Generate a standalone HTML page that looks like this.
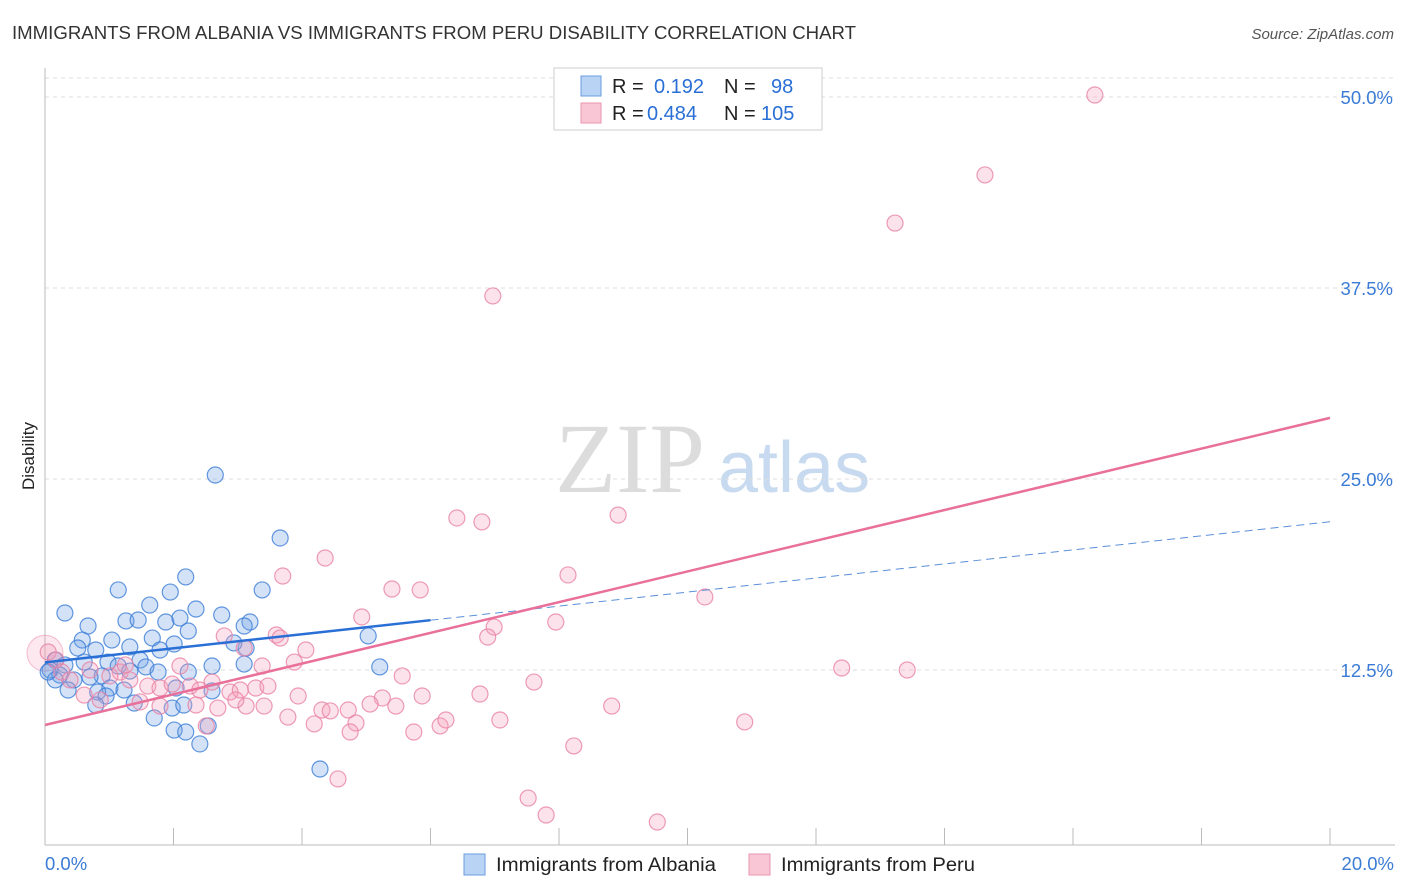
<!DOCTYPE html>
<html><head><meta charset="utf-8">
<style>
body{margin:0;background:#fff;font-family:"Liberation Sans",sans-serif;}
#c{position:relative;width:1406px;height:892px;overflow:hidden;}
</style></head>
<body>
<div id="c">
<svg id="s" width="1406" height="892" xmlns="http://www.w3.org/2000/svg">
<text x="12" y="39" font-size="18.5" fill="#333" textLength="844" lengthAdjust="spacingAndGlyphs">IMMIGRANTS FROM ALBANIA VS IMMIGRANTS FROM PERU DISABILITY CORRELATION CHART</text>
<text x="1394" y="39" font-size="15" fill="#555" font-style="italic" text-anchor="end">Source: ZipAtlas.com</text>
<text x="555" y="492" font-size="100" fill="#dcdcdc" font-family="Liberation Serif">ZIP</text>
<text x="718" y="492" font-size="72" fill="#c8daf0">atlas</text>
<text transform="translate(34,456) rotate(-90)" font-size="17" fill="#222" text-anchor="middle">Disability</text>
<g id="grid"></g><g id="pts"></g><g id="lines"></g>
<g>
<rect x="554" y="68" width="268" height="62" fill="#fff" stroke="#ccc"/>
<rect x="581" y="76" width="20" height="20" fill="#b9d3f5" stroke="#6a9ee0"/>
<rect x="581" y="103" width="20" height="20" fill="#f8c6d5" stroke="#e896b0"/>
<text x="612" y="93" font-size="20" fill="#222">R = <tspan fill="#2a6fd6" x="654">0.192</tspan><tspan fill="#222" x="724">N =</tspan><tspan fill="#2a6fd6" x="771">98</tspan></text>
<text x="612" y="120" font-size="20" fill="#222">R = <tspan fill="#2a6fd6" x="647">0.484</tspan><tspan fill="#222" x="724">N =</tspan><tspan fill="#2a6fd6" x="761">105</tspan></text>
</g>
<g>
<rect x="464" y="854" width="21" height="21" fill="#b9d3f5" stroke="#6a9ee0"/>
<text x="496" y="871" font-size="19" fill="#222" textLength="220" lengthAdjust="spacingAndGlyphs">Immigrants from Albania</text>
<rect x="749" y="854" width="21" height="21" fill="#f8c6d5" stroke="#e896b0"/>
<text x="781" y="871" font-size="19" fill="#222" textLength="194" lengthAdjust="spacingAndGlyphs">Immigrants from Peru</text>
</g>
<text x="45" y="870" font-size="18.5" fill="#3a7bd5">0.0%</text>
<text x="1394" y="870" font-size="18.5" fill="#3a7bd5" text-anchor="end">20.0%</text>
</svg>
</div>
<script>
const yTicks=[12.5,25,37.5,50];
const yTickLabels=["12.5%","25.0%","37.5%","50.0%"];
const xTickVals=[0,2,4,6,8,10,12,14,16,18,20];
const albaniaX=[2.65,3.66,1.14,2.19,3.38,0.31,1.63,1.95,2.35,2.75,0.67,1.26,1.45,1.88,2.10,3.19,3.10,2.23,1.67,0.58,1.04,1.32,1.79,2.01,3.13,2.94,5.03,0.79,0.51,0.16,0.31,0.98,1.14,1.48,1.57,1.32,1.76,0.89,2.23,2.60,3.10,5.21,0.23,0.45,0.70,1.01,1.23,0.82,0.36,0.95,1.39,0.79,2.04,2.60,1.70,1.98,2.16,2.01,2.19,2.54,2.41,4.28,0.08,0.16,0.05,0.61];
const albaniaY=[25.26,21.14,17.74,18.59,17.74,16.23,16.75,17.60,16.49,16.10,15.38,15.71,15.77,15.64,15.90,15.64,15.38,15.05,14.59,14.46,14.46,14.01,13.81,14.20,13.94,14.27,14.73,13.81,13.94,13.15,12.83,13.02,12.76,13.15,12.70,12.43,12.37,12.11,12.37,12.76,12.89,12.70,12.17,11.85,12.04,11.32,11.19,11.06,11.19,10.80,10.34,10.21,11.32,11.13,9.36,10.01,10.21,8.57,8.44,8.84,7.66,6.02,12.50,11.85,12.37,13.02];
const peruX=[16.34,14.63,13.23,6.97,6.41,6.80,8.92,4.36,3.70,5.40,5.84,8.14,10.27,4.93,7.95,6.99,6.89,2.79,3.60,3.66,4.06,3.10,3.38,3.88,2.10,5.56,7.61,12.40,13.42,0.05,0.17,0.26,0.70,1.17,1.32,1.60,1.79,1.98,2.26,2.60,2.88,3.04,3.28,3.47,3.94,5.25,5.87,6.77,0.86,1.48,1.79,2.35,2.69,3.13,3.41,3.78,4.31,4.44,4.72,5.06,5.46,6.15,6.24,7.08,8.82,10.89,4.19,4.84,4.75,5.74,2.51,8.23,4.56,7.52,7.80,9.53,1.01,0.39,2.41,2.97,0.61,1.25];
const peruY=[50.13,44.90,41.75,36.98,22.45,22.19,22.64,19.83,18.65,17.80,17.74,18.72,17.28,15.97,15.64,15.31,14.66,14.73,14.79,14.59,13.81,13.94,12.76,13.02,12.76,12.11,11.71,12.63,12.50,13.68,13.15,12.37,12.50,12.37,11.85,11.45,11.32,11.58,11.45,11.71,11.06,11.19,11.32,11.45,10.80,10.67,10.80,10.93,10.54,10.41,10.14,10.21,10.01,10.14,10.14,9.42,9.88,9.82,9.88,10.27,10.14,8.84,9.23,9.23,10.14,9.10,8.97,9.03,8.44,8.44,8.84,7.53,5.37,4.12,3.01,2.55,12.11,11.85,11.19,10.54,10.86,12.83];
const albaniaTrend=[13.0,22.2];
const peruTrend=[8.9,29.0];
const X=v=>45+v*64.25, Y=v=>861-v*15.28;
const NS="http://www.w3.org/2000/svg";
function mk(tag,attrs,parent){const e=document.createElementNS(NS,tag);for(const k in attrs)e.setAttribute(k,attrs[k]);parent.appendChild(e);return e;}
const g=document.getElementById('grid');
let e=mk('line',{x1:45,x2:1395,y1:78,y2:78,stroke:'#ddd','stroke-dasharray':'4,4'},g);


yTicks.forEach((t,i)=>{
 let l=mk('line',{x1:45,x2:1395,y1:Y(t),y2:Y(t),stroke:'#ddd','stroke-dasharray':'4,4'},g);
 
 
 let tx=mk('text',{x:1393,y:Y(t)+7,'font-size':18.5,fill:'#3a7bd5','text-anchor':'end'},g);
 tx.textContent=yTickLabels[i];
 
 
});
e=mk('line',{x1:45,x2:45,y1:68,y2:845,stroke:'#bbb'},g);


e=mk('line',{x1:45,x2:1395,y1:845,y2:845,stroke:'#bbb'},g);


xTickVals.forEach(v=>{
 let l=mk('line',{x1:X(v),x2:X(v),y1:828,y2:845,stroke:'#bbb'},g);
 
 
});
const p=document.getElementById('pts');
e=mk('circle',{cx:X(0),cy:Y(13.6),r:18,fill:'rgba(240,140,170,0.2)',stroke:'rgba(232,130,165,0.5)'},p);


albaniaX.forEach((v,i)=>{
 let c=mk('circle',{cx:X(v),cy:Y(albaniaY[i]),r:8,fill:'rgba(110,160,230,0.3)',stroke:'rgba(60,125,215,0.8)','stroke-width':1.2},p);
 
 
});
peruX.forEach((v,i)=>{
 let c=mk('circle',{cx:X(v),cy:Y(peruY[i]),r:8,fill:'rgba(245,160,185,0.3)',stroke:'rgba(232,130,165,0.8)','stroke-width':1.2},p);
 
 
});
const L=document.getElementById('lines');
const at=(t,x)=>t[0]+(t[1]-t[0])*x/20;
e=mk('line',{x1:X(0),y1:Y(at(albaniaTrend,0)),x2:X(6),y2:Y(at(albaniaTrend,6)),stroke:'#2a6fd6','stroke-width':2.5},L);


e=mk('line',{x1:X(6),y1:Y(at(albaniaTrend,6)),x2:X(20),y2:Y(at(albaniaTrend,20)),stroke:'#5a8fd8','stroke-width':1,'stroke-dasharray':'8,5'},L);


e=mk('line',{x1:X(0),y1:Y(at(peruTrend,0)),x2:X(20),y2:Y(at(peruTrend,20)),stroke:'#e8709a','stroke-width':2.5},L);


</script>
</body></html>
